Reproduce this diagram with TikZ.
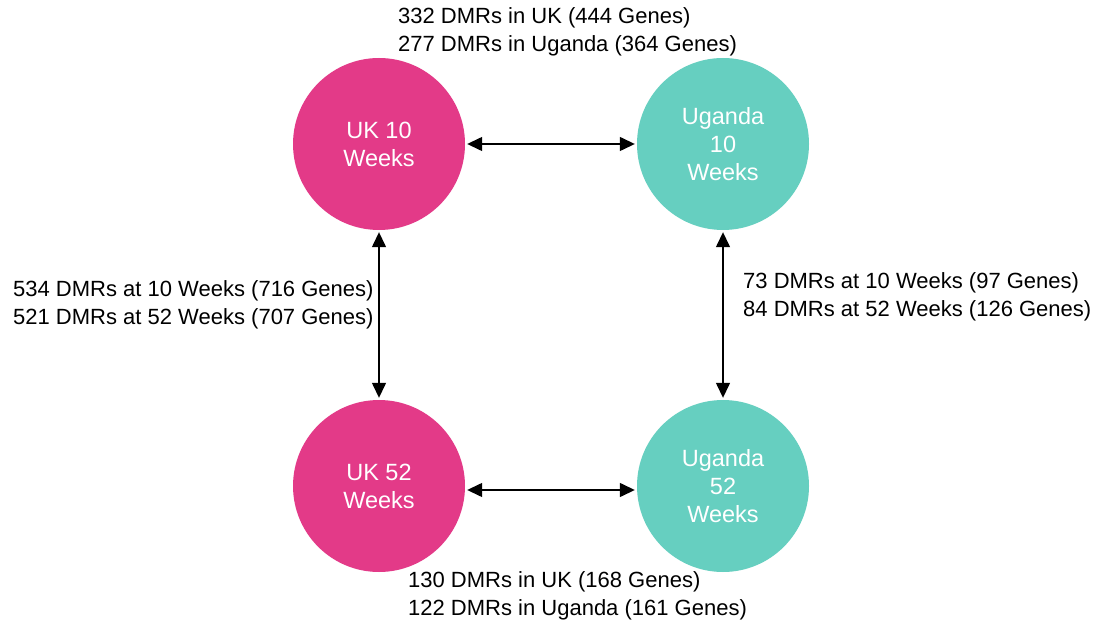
\documentclass[tikz,border=0pt]{standalone}
\usepackage{fontspec}
\setmainfont{Liberation Sans}
\usetikzlibrary{arrows.meta}
\definecolor{ukpink}{HTML}{E33A88}
\definecolor{ugteal}{HTML}{66CFC0}
\tikzset{
  group/.style={circle, minimum size=172pt, inner sep=0pt, text=white, align=center,
    font=\fontsize{23.5}{28}\selectfont},
  uk/.style={group, fill=ukpink},
  ug/.style={group, fill=ugteal},
  info/.style={inner sep=0pt, align=left, anchor=west, font=\fontsize{22}{28.5}\selectfont},
  tip/.style={Triangle[length=15pt,width=14pt]},
  link/.style={line width=1.4pt, {Triangle[length=15pt,width=14pt]}-{Triangle[length=15pt,width=14pt]},
    shorten >=2pt, shorten <=2pt}
}
\begin{document}
\begin{tikzpicture}[x=1pt, y=-1pt]
\useasboundingbox (0,0) rectangle (1101,628);
\fill[white] (0,0) rectangle (1101,628);

% groups
\node[uk] (uk10) at (379,144) {UK 10\\Weeks};
\node[ug] (ug10) at (723,144) {Uganda\\10\\Weeks};
\node[uk] (uk52) at (379,486) {UK 52\\Weeks};
\node[ug] (ug52) at (723,486) {Uganda\\52\\Weeks};

% comparisons
\draw[link] (uk10) -- (ug10);
\draw[link] ([yshift=-4pt]uk52.east) -- ([yshift=-4pt]ug52.west);
\draw[link] (uk10) -- (uk52);
\draw[link] (ug10) -- (ug52);

% counts
\node[info] (top) at (398,32) {332 DMRs in UK (444 Genes)\\277 DMRs in Uganda (364 Genes)};
\node[info] (bottom) at (408,596) {130 DMRs in UK (168 Genes)\\122 DMRs in Uganda (161 Genes)};
\node[info] (left) at (13,305) {534 DMRs at 10 Weeks (716 Genes)\\521 DMRs at 52 Weeks (707 Genes)};
\node[info] (right) at (743,297) {73 DMRs at 10 Weeks (97 Genes)\\84 DMRs at 52 Weeks (126 Genes)};
\end{tikzpicture}
\end{document}
